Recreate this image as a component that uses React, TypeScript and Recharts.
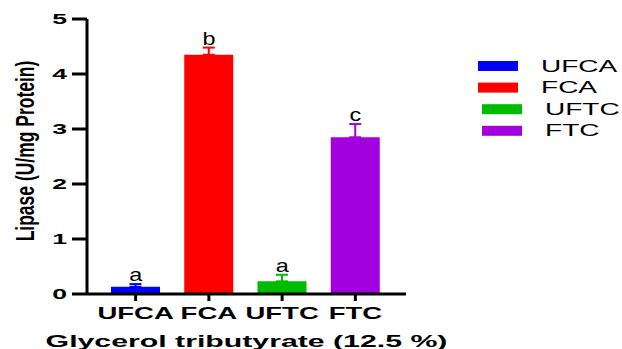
import React from 'react';
import { ComposedChart, Bar, Cell, Line, XAxis, YAxis, ErrorBar, LabelList } from 'recharts';

const categories = ['UFCA', 'FCA', 'UFTC', 'FTC'];
const lipase = [0.13, 4.35, 0.23, 2.85];
const lipaseErr = [0.05, 0.13, 0.12, 0.24];
const letters = ['a', 'b', 'a', 'c'];
const barColors = ['#0000ff', '#ff0000', '#00bb00', '#a300e0'];
const yTicks = [0, 1, 2, 3, 4, 5];

const FONT = '"Liberation Sans", Arial, sans-serif';

// one row per group; each error key only exists on its own row so every error bar keeps its bar's colour
const data = categories.map((name, i) => {
  const row: any = { name, lipase: lipase[i], top: lipase[i] + lipaseErr[i], sig: letters[i] };
  row['e' + i] = [0, lipaseErr[i]];
  return row;
});

const XTick = (props: any) => {
  const { x, y, payload } = props;
  return (
    <text transform={`translate(${x},${y + 16}) scale(1.72,1)`} textAnchor="middle"
      fontFamily={FONT} fontWeight="bold" fontSize={16} fill="#000">
      {payload.value}
    </text>
  );
};

const YTick = (props: any) => {
  const { x, y, payload } = props;
  return (
    <text transform={`translate(${x},${y}) scale(1.9,1)`} textAnchor="end" dy="0.36em"
      fontFamily={FONT} fontWeight="bold" fontSize={14} fill="#000">
      {payload.value}
    </text>
  );
};

const SigLabel = (props: any) => {
  const { x, y, value } = props;
  return (
    <text transform={`translate(${x},${y - 3}) scale(1.3,1)`} textAnchor="middle"
      fontFamily={FONT} fontSize={18} fill="#000">
      {value}
    </text>
  );
};

const XTitle = (props: any) => {
  const { viewBox } = props;
  const cx = viewBox.x + viewBox.width / 2;
  return (
    <text transform={`translate(${cx},347) scale(1.78,1)`} textAnchor="middle"
      fontFamily={FONT} fontWeight="bold" fontSize={17} fill="#000">
      Glycerol tributyrate (12.5 %)
    </text>
  );
};

const YTitle = () => (
  <text transform="translate(24.5,151) scale(1.45,1) rotate(-90)" textAnchor="middle" dy="0.36em"
    fontFamily={FONT} fontWeight="bold" fontSize={17.5} fill="#000">
    Lipase (U/mg Protein)
  </text>
);

export default function App() {
  return (
    <div style={{ position: 'absolute', left: 0, top: 0, width: 622, height: 349, background: '#fff' }}>
      <ComposedChart width={622} height={349} data={data}
        margin={{ top: 19, right: 216, bottom: 0, left: 20 }}>
        <XAxis dataKey="name" height={55} padding={{ left: 12, right: 14 }}
          axisLine={{ stroke: '#000', strokeWidth: 3 }}
          tickLine={{ stroke: '#000', strokeWidth: 3 }} tickSize={7} tickMargin={2}
          tick={<XTick />} interval={0} label={{ content: <XTitle /> }} />
        <YAxis width={67} domain={[0, 5]} ticks={yTicks} interval={0}
          axisLine={{ stroke: '#000', strokeWidth: 3 }}
          tickLine={{ stroke: '#000', strokeWidth: 3 }} tickSize={15} tickMargin={5}
          tick={<YTick />} label={{ content: <YTitle /> }} />
        <Bar dataKey="lipase" barSize={49} isAnimationActive={false}>
          {categories.map((c, i) => (
            <Cell key={c} fill={barColors[i]} />
          ))}
          {categories.map((c, i) => (
            <ErrorBar key={'err-' + c} dataKey={'e' + i} direction="y" width={6}
              stroke={barColors[i]} strokeWidth={2} />
          ))}
        </Bar>
        <Line dataKey="top" stroke="none" dot={false} activeDot={false} isAnimationActive={false}>
          <LabelList dataKey="sig" content={<SigLabel />} />
        </Line>
      </ComposedChart>
      <svg width={622} height={349} style={{ position: 'absolute', left: 0, top: 0, pointerEvents: 'none' }}>
        {categories.map((c, i) => {
          const indent = i >= 2 ? 4 : 0;
          const top = 61 + i * 21.6;
          return (
            <g key={c}>
              <rect x={478 + indent} y={top} width={40} height={10} fill={barColors[i]} />
              <text transform={`translate(${541 + indent},${top + 10.5}) scale(1.7,1)`}
                fontFamily={FONT} fontSize={16.5} fill="#000">
                {c}
              </text>
            </g>
          );
        })}
      </svg>
    </div>
  );
}
